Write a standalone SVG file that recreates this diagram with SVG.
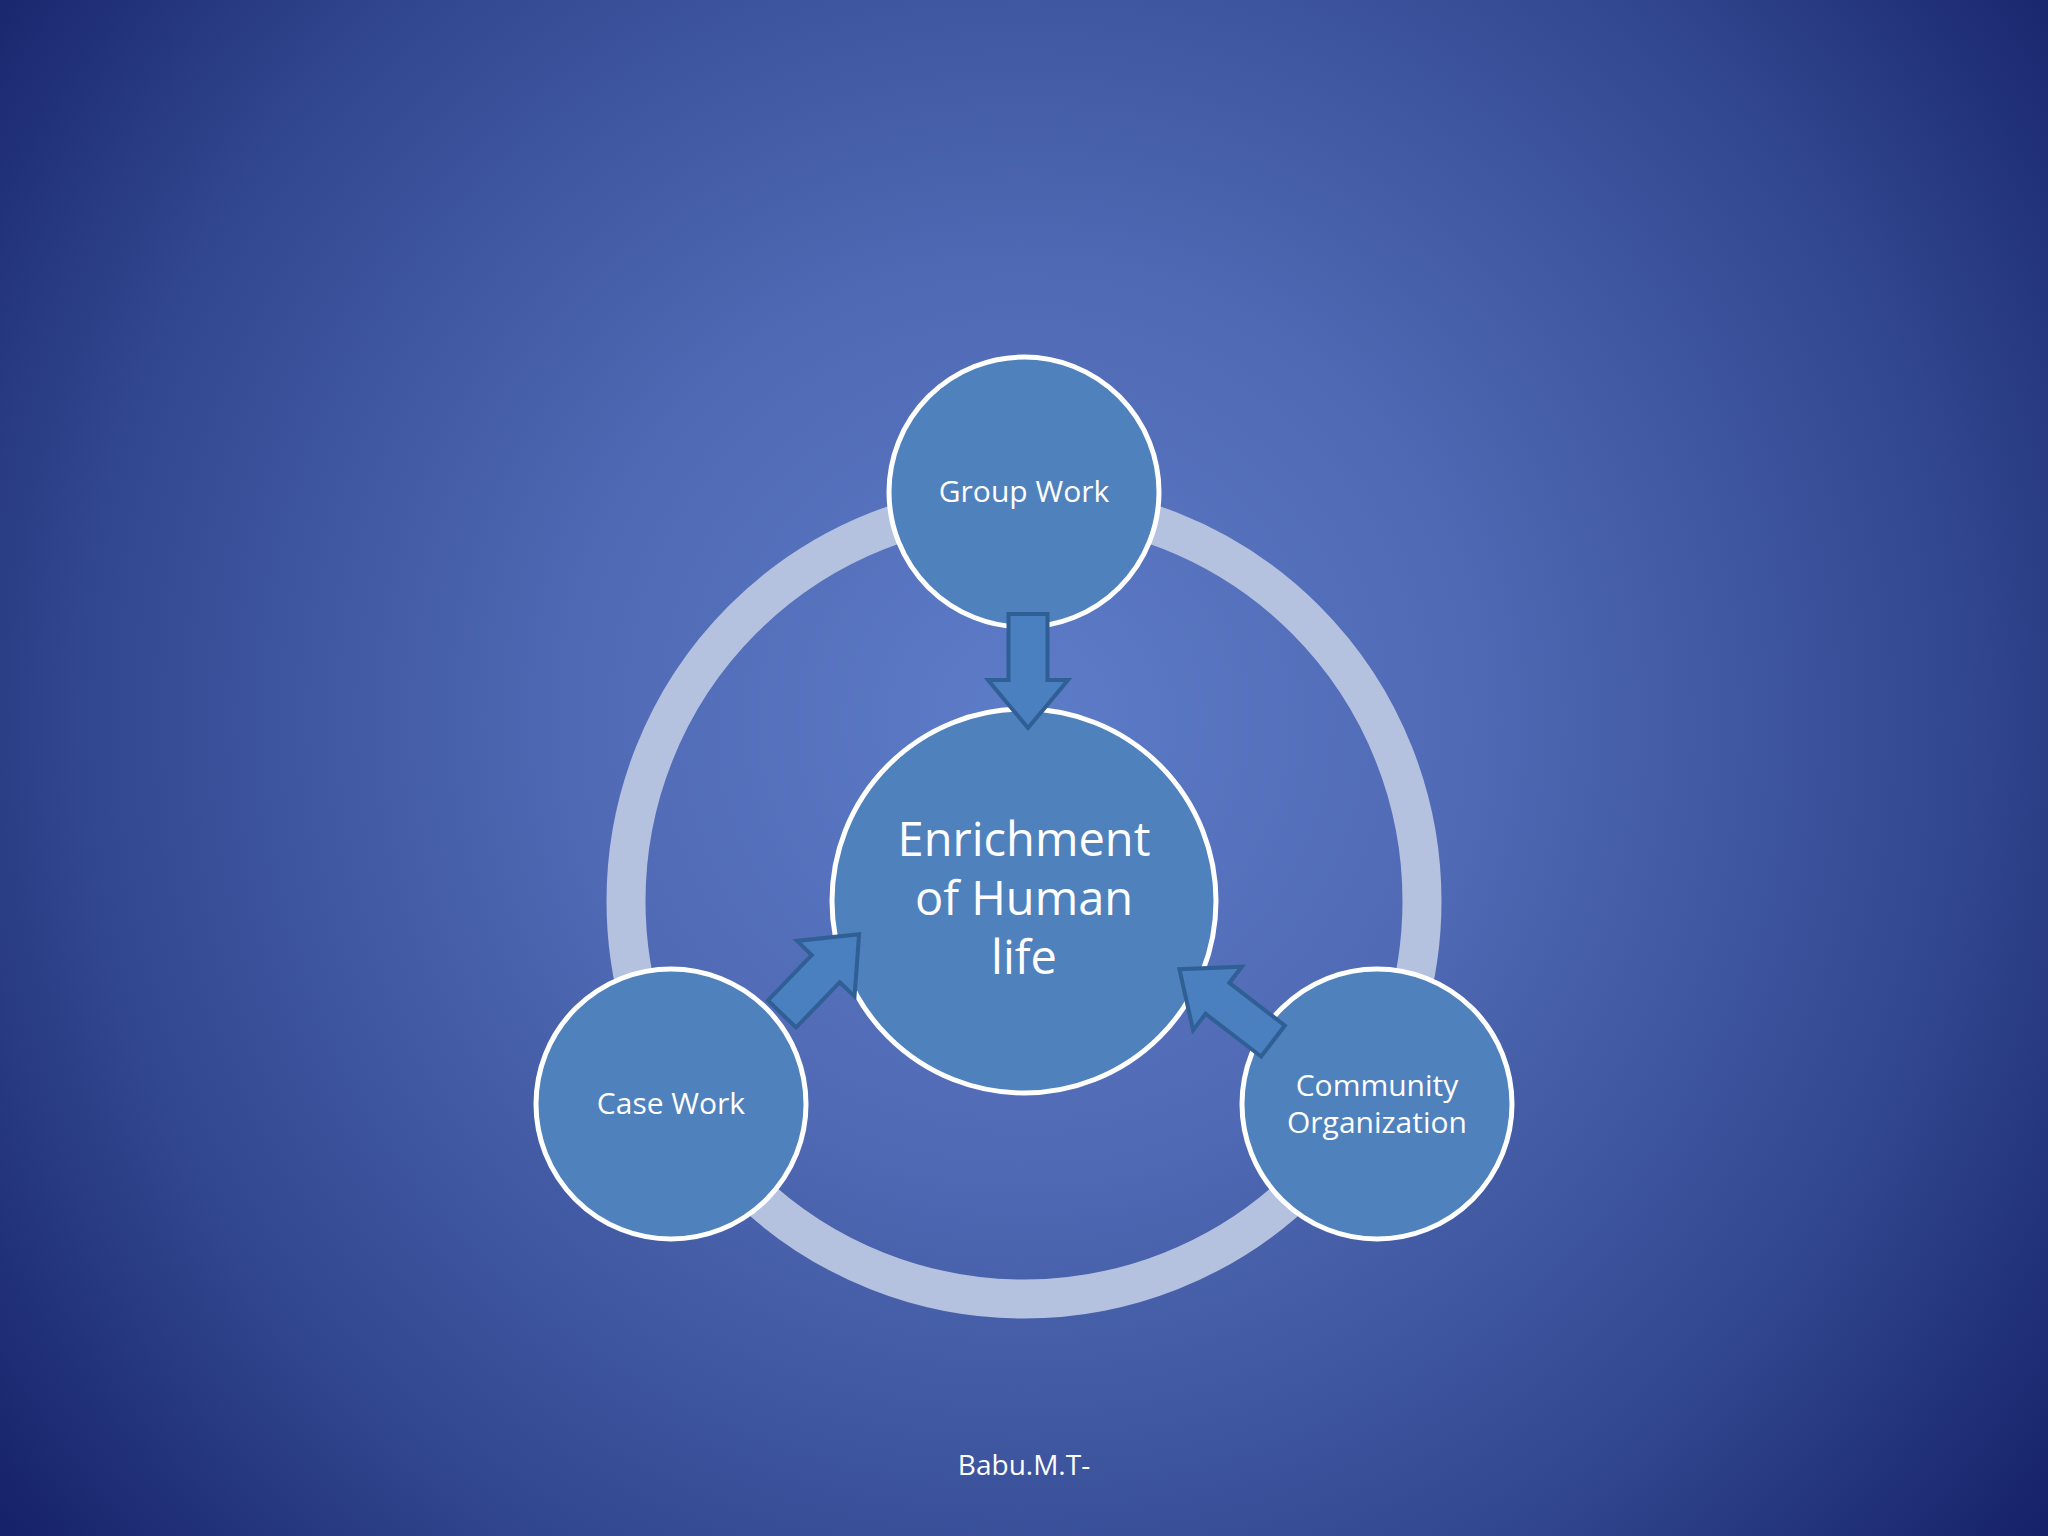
<svg xmlns="http://www.w3.org/2000/svg" width="2048" height="1536" viewBox="0 0 2048 1536">
<defs>
<radialGradient id="bg" cx="1024" cy="720" r="1300" gradientUnits="userSpaceOnUse">
<stop offset="0" stop-color="#5d7cc8"/>
<stop offset="0.35" stop-color="#5069b4"/>
<stop offset="0.7" stop-color="#334a92"/>
<stop offset="1" stop-color="#16226a"/>
</radialGradient>
<style>
.node{fill:#4f81bd;stroke:#ffffff;stroke-width:5}
.arrow{fill:#4a7fc0;stroke:#2f5f95;stroke-width:4;stroke-linejoin:miter}
.t{font-family:"Open Sans","Noto Sans",sans-serif;fill:#ffffff;text-anchor:middle}
</style>
</defs>
<rect width="2048" height="1536" fill="url(#bg)"/>
<circle cx="1024" cy="901" r="398" fill="none" stroke="#b4c2e0" stroke-width="39"/>
<g id="group-work"><circle class="node" cx="1024" cy="492" r="135"/><text class="t" x="1024" y="502" font-size="30">Group Work</text></g>
<g id="center"><circle class="node" cx="1024" cy="901" r="192"/>
<text class="t" font-size="47"><tspan x="1024" y="856">Enrichment</tspan><tspan x="1024" y="915">of Human</tspan><tspan x="1024" y="974">life</tspan></text></g>
<g id="case-work"><circle class="node" cx="671" cy="1104" r="135"/><text class="t" x="671" y="1114" font-size="30">Case Work</text></g>
<g id="community"><circle class="node" cx="1377" cy="1104" r="135"/>
<text class="t" font-size="30"><tspan x="1377" y="1096">Community</tspan><tspan x="1377" y="1133">Organization</tspan></text></g>
<g id="connectors">
<path class="arrow" transform="translate(1028,614) rotate(90)" d="M0,-19.5 L66,-19.5 L66,-40 L114,0 L66,40 L66,19.5 L0,19.5 Z"/>
<path class="arrow" transform="translate(782,1014) rotate(-46)" d="M0,-19.5 L63,-19.5 L63,-40 L111,0 L63,40 L63,19.5 L0,19.5 Z"/>
<path class="arrow" transform="translate(1273,1041) rotate(217.5)" d="M0,-19.5 L70,-19.5 L70,-40 L118,0 L70,40 L70,19.5 L0,19.5 Z"/>
</g>
<text class="t" x="1024" y="1475" font-size="28">Babu.M.T-</text>
</svg>
